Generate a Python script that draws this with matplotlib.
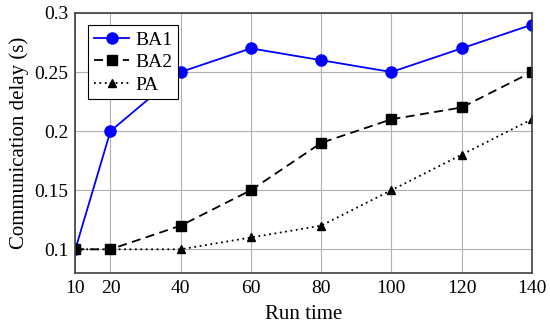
import matplotlib
matplotlib.use("Agg")
import matplotlib.pyplot as plt

# === Data ===
run_time = [10, 20, 40, 60, 80, 100, 120, 140]
ba1 = [0.10, 0.20, 0.25, 0.27, 0.26, 0.25, 0.27, 0.29]
ba2 = [0.10, 0.10, 0.12, 0.15, 0.19, 0.21, 0.22, 0.25]
pa = [0.10, 0.10, 0.10, 0.11, 0.12, 0.15, 0.18, 0.21]
y_ticks = [0.1, 0.15, 0.2, 0.25, 0.3]
y_labels = ["0.1", "0.15", "0.2", "0.25", "0.3"]

plt.rcParams["font.family"] = ["Liberation Serif", "DejaVu Serif"]
plt.rcParams["font.size"] = 14

fig = plt.figure(figsize=(5.5, 3.23), dpi=100)
ax = fig.add_axes([0.137, 0.155, 0.83, 0.805])

ax.plot(run_time, ba1, color="#0000ff", marker="o", markersize=8, lw=1.3, label="BA1")
ax.plot(run_time, ba2, color="black", marker="s", markersize=7.5, lw=1.3,
        linestyle=(0, (5, 3)), label="BA2")
ax.plot(run_time, pa, color="black", marker="^", markersize=5.5, lw=1.3,
        linestyle=(0, (1, 2)), label="PA")

ax.set_xlim(10, 140)
ax.set_ylim(0.08, 0.3)
ax.set_xticks(run_time)
ax.set_yticks(y_ticks)
ax.set_yticklabels(y_labels)
ax.grid(True, color="#b0b0b0", lw=0.8)
ax.set_axisbelow(True)
ax.tick_params(length=0, pad=5)
for s in ax.spines.values():
    s.set_color("#404040")
    s.set_linewidth(1.2)

ax.set_xlabel("Run time", fontsize=15, labelpad=6)
ax.set_ylabel("Communication delay (s)", fontsize=15, labelpad=4)

leg = ax.legend(loc="upper left", bbox_to_anchor=(0.007, 0.99), fancybox=False,
                framealpha=1, edgecolor="black", borderpad=0.3, labelspacing=0.25,
                handlelength=1.8, handletextpad=0.3, fontsize=14)
leg.get_frame().set_linewidth(0.8)

fig.savefig("out.png", dpi=100)
